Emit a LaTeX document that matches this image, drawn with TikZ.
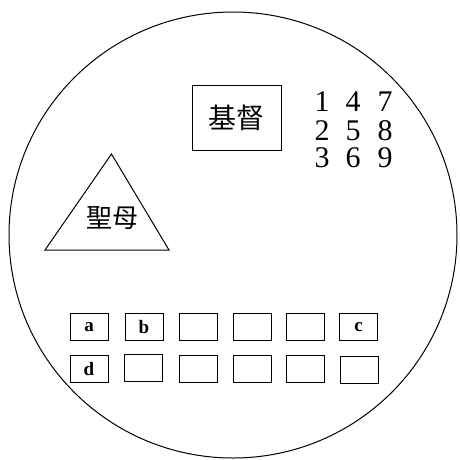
\documentclass[tikz,border=0pt]{standalone}
\usepackage{fontspec}
\setmainfont{Liberation Serif}
\newfontfamily\cjk{Noto Sans CJK SC}
\begin{document}
\begin{tikzpicture}[x=1pt,y=-1pt,
  line width=1pt,
  cell/.style={draw, minimum width=38pt, minimum height=27pt, inner sep=0pt, font=\fontsize{19}{19}\selectfont\bfseries},
  digit/.style={inner sep=0pt, text height=20pt, text depth=0pt, font=\fontsize{30}{30}\selectfont}]
\useasboundingbox (0,0) rectangle (460,459);
\fill[white] (0,0) rectangle (460,459);
\draw (233,235) ellipse [x radius=224, y radius=223];
% box
\node[draw, minimum width=89pt, minimum height=65pt, inner sep=0pt, font=\cjk\fontsize{28}{28}\selectfont] (jidu) at (236.5,117.5) {基督};
% triangle
\draw (111.5,154) coordinate (apex) -- (169,250) coordinate (br) -- (45,250) coordinate (bl) -- cycle;
\node[inner sep=0pt, font=\cjk\fontsize{26}{26}\selectfont] (shengmu) at (112,218) {聖母};
% digits
\foreach \c/\x in {0/322,1/353,2/385}{
  \foreach \r/\y in {0/101,1/130,2/157}{
    \pgfmathtruncatemacro{\n}{\c*3+\r+1}
    \node[digit] (d\n) at (\x,\y) {\n};
  }
}
% cells
\node[cell] (ca) at (89,327) {a};
\node[cell] (cb) at (144,327) {b};
\node[cell] (c3) at (198,327) {};
\node[cell] (c4) at (252,327) {};
\node[cell] (c5) at (305,327) {};
\node[cell] (cc) at (358.5,327) {c};
\node[cell] (cd) at (89,368.5) {d};
\node[cell] (r2) at (143,368) {};
\node[cell] (r3) at (198,369) {};
\node[cell] (r4) at (252,369) {};
\node[cell] (r5) at (305,369) {};
\node[cell] (r6) at (359.5,370) {};
\end{tikzpicture}
\end{document}
